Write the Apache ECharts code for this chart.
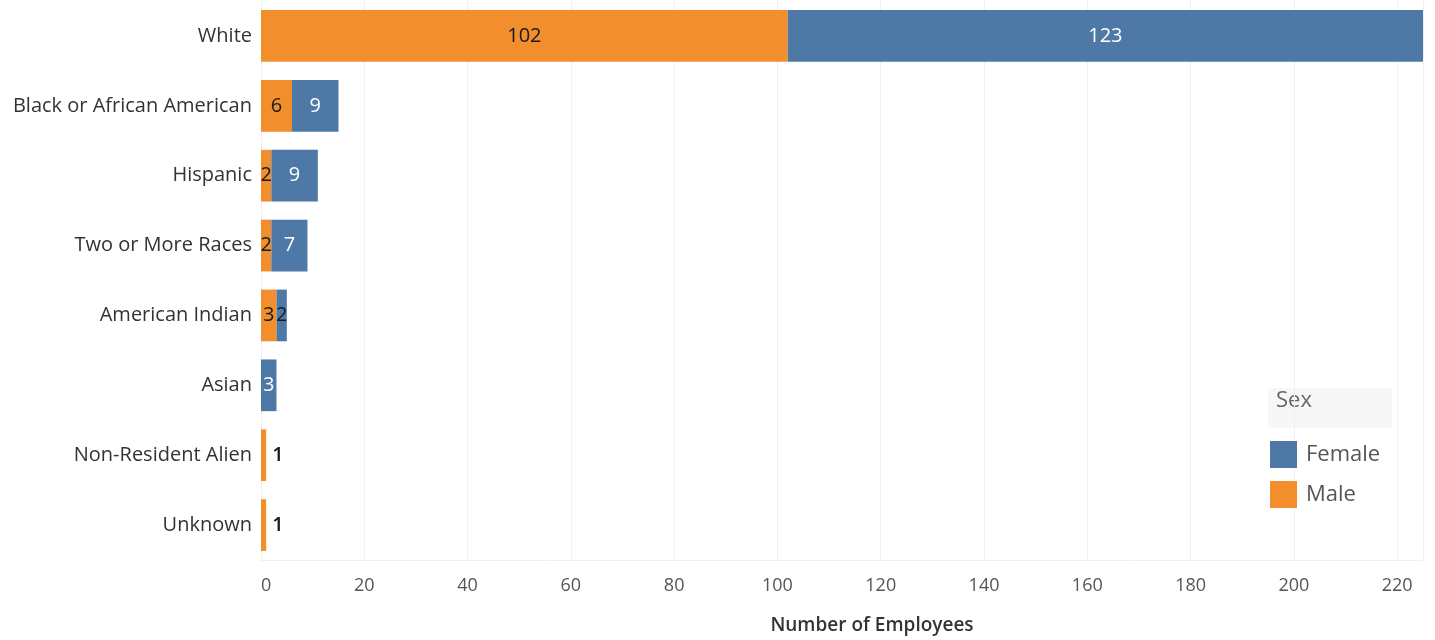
<!DOCTYPE html>
<html>
<head>
<meta charset="utf-8">
<script src="https://cdn.jsdelivr.net/npm/echarts@6/dist/echarts.min.js"></script>
<style>html,body{margin:0;padding:0;background:#fff}#c{width:1435px;height:640px}</style>
</head>
<body>
<div id="c"></div>
<script>
const categories = ['White','Black or African American','Hispanic','Two or More Races','American Indian','Asian','Non-Resident Alien','Unknown'];
const maleValues = [102, 6, 2, 2, 3, 0, 1, 1];
const femaleValues = [123, 9, 9, 7, 2, 3, 0, 0];
const xTicks = { min: 0, max: 225, interval: 20 };

const ORANGE = '#F28E2B', BLUE = '#4E79A7';
const FONT = 'Open Sans';

function maleData() {
  return maleValues.map(v => {
    if (v === 0) return { value: v, label: { show: false } };
    if (v === 1) return { value: v, label: { position: 'right', distance: 6, fontWeight: 600 } };
    return { value: v };
  });
}
function femaleData() {
  return femaleValues.map((v, i) => {
    if (v === 0) return { value: v, label: { show: false } };
    if (categories[i] === 'American Indian') return { value: v, label: { color: '#1a1a1a' } };
    return { value: v };
  });
}

const chart = echarts.init(document.getElementById('c'), null, { renderer: 'canvas' });
chart.setOption({
  animation: false,
  textStyle: { fontFamily: FONT },
  grid: { left: 261, right: 12, top: 1, bottom: 79, containLabel: false },
  xAxis: {
    type: 'value', min: xTicks.min, max: xTicks.max, interval: xTicks.interval,
    name: 'Number of Employees', nameLocation: 'middle', nameGap: 56,
    nameTextStyle: { fontSize: 19, fontWeight: 600, color: '#333', fontFamily: FONT, padding: [0, 0, 0, 60] },
    axisLine: { show: true, lineStyle: { color: '#f0f0f0' } },
    axisTick: { show: false },
    axisLabel: { fontSize: 18, color: '#555', margin: 17, showMaxLabel: false, alignMinLabel: 'left', fontFamily: FONT },
    splitLine: { show: true, lineStyle: { color: '#efefef', width: 1 } }
  },
  yAxis: {
    type: 'category', data: categories, inverse: true,
    axisLine: { show: false }, axisTick: { show: false },
    axisLabel: { fontSize: 20, color: '#333', margin: 9, fontFamily: FONT },
    splitLine: { show: false }
  },
  legend: {
    data: ['Female', 'Male'], orient: 'vertical', left: 1265, top: 436,
    itemWidth: 27, itemHeight: 27, itemGap: 13, icon: 'rect',
    textStyle: { fontSize: 22, color: '#555', fontFamily: FONT, padding: [0, 0, 0, 4] }
  },
  graphic: [
    { type: 'rect', left: 1268, top: 388, shape: { width: 124, height: 40 }, style: { fill: '#f7f7f7' }, z: -1 },
    { type: 'text', left: 1276, top: 390, style: { text: 'Sex', fontSize: 22, fill: '#666', fontFamily: FONT } }
  ],
  series: [
    {
      name: 'Male', type: 'bar', stack: 'total', data: maleData(), barCategoryGap: '26%',
      itemStyle: { color: ORANGE },
      label: { show: true, position: 'inside', color: '#1a1a1a', fontSize: 20, fontFamily: FONT }
    },
    {
      name: 'Female', type: 'bar', stack: 'total', data: femaleData(), barCategoryGap: '26%',
      itemStyle: { color: BLUE },
      label: { show: true, position: 'inside', color: '#ffffff', fontSize: 20, fontFamily: FONT }
    }
  ]
});
</script>
</body>
</html>
